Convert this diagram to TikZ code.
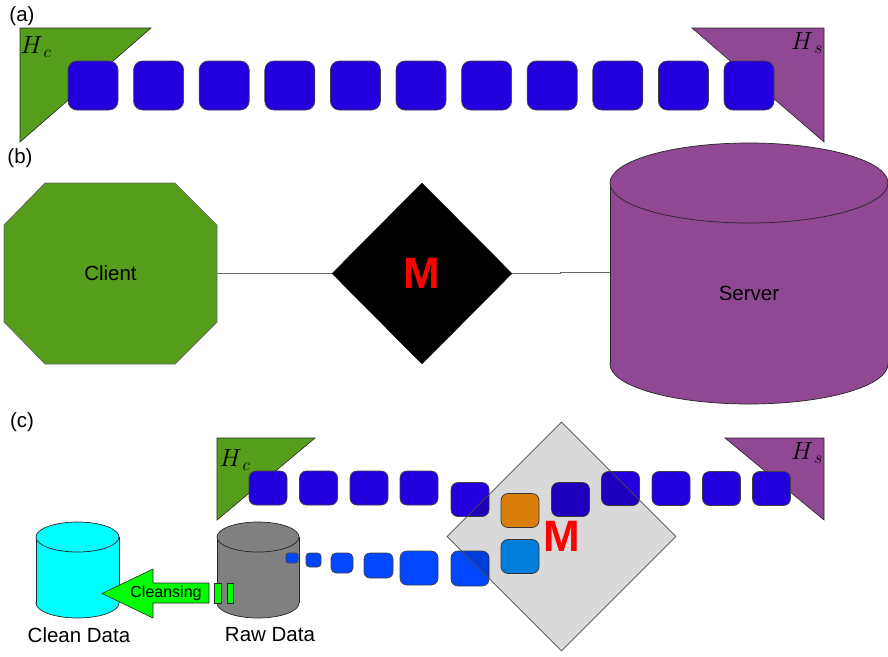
\documentclass[tikz,border=0pt]{standalone}
\usepackage{fontspec}
\setsansfont{Liberation Sans}
\usetikzlibrary{shapes.geometric}
\definecolor{hgreen}{HTML}{579D1C}
\definecolor{hpurple}{HTML}{914892}
\definecolor{sqblue}{HTML}{2200DD}
\definecolor{ltblue}{HTML}{0047FF}
\definecolor{sqorange}{HTML}{FF950E}
\definecolor{skyblue}{HTML}{0095FF}
\definecolor{cyanfill}{HTML}{00FFFF}
\definecolor{rawgray}{HTML}{808080}
\definecolor{arrgreen}{HTML}{00FF00}
\begin{document}
\begin{tikzpicture}[x=1pt,y=-1pt,
  font=\sffamily\fontsize{20.5}{24}\selectfont,
  tri/.style={draw=black!85, line width=0.6pt},
  blk/.style={rectangle, rounded corners=7pt, draw=black!75, line width=0.7pt, inner sep=0pt, fill=sqblue},
  hlabel/.style={font=\fontsize{24}{28}\selectfont, inner sep=0pt},
  conn/.style={draw=black!60, line width=1pt},
  ghost/.style={rectangle, inner sep=0pt},
  cylline/.style={draw=black!85, line width=0.7pt}
]
\useasboundingbox (0,0) rectangle (888,656);

% ---------------- (a)
\node (la) at (22,16) {(a)};
\draw[tri, fill=hgreen] (20,28) -- (151,28) -- (20,142) -- cycle;
\node[hlabel] (hca) at (36,47) {$H_{\,c}$};
\draw[tri, fill=hpurple] (692,28) -- (824,28) -- (824,142) -- cycle;
\node[hlabel] (hsa) at (807,43) {$H_{\,s}$};
\foreach \i in {0,...,10}
  \node[blk, rounded corners=9pt, minimum width=50pt, minimum height=49pt] (a\i) at ({93+65.6*\i},85.5) {};

% ---------------- (b)
\node (lb) at (20,158) {(b)};
\draw[fill=hgreen, draw=black!60, line width=0.7pt]
  (4,225) -- (45,183) -- (175,183) -- (217,225) -- (217,322) -- (175,364) -- (45,364) -- (4,322) -- cycle;
\node[ghost, minimum width=213pt, minimum height=181pt] (cl) at (110.5,273.5) {Client};
\node[diamond, fill=black, draw=black, minimum width=180pt, minimum height=181pt, inner sep=0pt,
      text=red, font=\sffamily\bfseries\fontsize{44}{50}\selectfont] (mb) at (422,273.5) {M};
% server cylinder
\draw[cylline, fill=hpurple] (749,364) ellipse [x radius=139, y radius=40];
\fill[hpurple] (610,183) rectangle (888,364);
\draw[cylline] (610,183) -- (610,364);
\draw[cylline] (888,183) -- (888,364);
\draw[cylline, fill=hpurple] (749,183) ellipse [x radius=139, y radius=40];
\node[ghost, minimum width=278pt, minimum height=181pt] (sv) at (749,273.5) {};
\node (svt) at (749,293) {Server};
\draw[conn] (cl.east) -- (mb.west);
\draw[conn] (mb.east) -- ++(48,0) -- ++(0,-1.5) -- ([yshift=1.5pt]sv.west);

% ---------------- (c)
\node (lc) at (22,422) {(c)};
\draw[tri, fill=hgreen] (217,438) -- (315,438) -- (217,520) -- cycle;
\node[hlabel] (hcc) at (235,460) {$H_{\,c}$};
\draw[tri, fill=hpurple] (725,438) -- (824,438) -- (824,520) -- cycle;
\node[hlabel] (hsc) at (807,453) {$H_{\,s}$};

% clean data cylinder
\draw[cylline, fill=cyanfill] (77.5,603) ellipse [x radius=41.5, y radius=15];
\fill[cyanfill] (36,537) rectangle (119,603);
\draw[cylline] (36,537) -- (36,603);
\draw[cylline] (119,537) -- (119,603);
\draw[cylline, fill=cyanfill] (77.5,537) ellipse [x radius=41.5, y radius=15];
\node[ghost, minimum width=83pt, minimum height=96pt] (clean) at (77.5,570) {};
\node (cleant) at (79,635) {Clean Data};

% raw data cylinder
\draw[cylline, fill=rawgray] (258,603) ellipse [x radius=41, y radius=15];
\fill[rawgray] (217,537) rectangle (299,603);
\draw[cylline] (217,537) -- (217,603);
\draw[cylline] (299,537) -- (299,603);
\draw[cylline, fill=rawgray] (258,537) ellipse [x radius=41, y radius=15];
\node[ghost, minimum width=82pt, minimum height=96pt] (raw) at (258,570) {};
\node (rawt) at (270,635) {Raw Data};

% cleansing arrow
\draw[fill=arrgreen, draw=black!85, line width=0.6pt]
  (209,583) -- (153,583) -- (153,569) -- (102,593.5) -- (153,618) -- (153,603) -- (209,603) -- cycle;
\node[font=\sffamily\fontsize{16}{19}\selectfont, inner sep=0pt] (cls) at (166,593) {Cleansing};
\draw[fill=arrgreen, draw=black!85, line width=0.6pt] (214,583) rectangle (221,603);
\draw[fill=arrgreen, draw=black!85, line width=0.6pt] (227,583) rectangle (233,603);

% top row
\foreach \n/\x/\y in {t1/268/488, t2/318.5/488, t3/369/488, t4/419/488, t5/470/499.5,
                      t7/570.5/499.5, t8/620.5/488.5, t9/671/488.5, t10/721.5/488.5, t11/771.5/488.5}
  \node[blk, minimum width=38pt, minimum height=34pt] (\n) at (\x,\y) {};
\node[blk, fill=sqorange, minimum width=38pt, minimum height=34pt] (or) at (520,510.5) {};
\node[blk, fill=skyblue, minimum width=38pt, minimum height=34pt] (lb2) at (520,556.5) {};

% bottom row
\node[blk, fill=ltblue, rounded corners=2.5pt, minimum width=12pt, minimum height=10pt] (b1) at (292,558) {};
\node[blk, fill=ltblue, rounded corners=3.5pt, minimum width=15pt, minimum height=14pt] (b2) at (313.5,560) {};
\node[blk, fill=ltblue, rounded corners=5pt, minimum width=22pt, minimum height=20pt] (b3) at (342,563) {};
\node[blk, fill=ltblue, rounded corners=6pt, minimum width=29pt, minimum height=25pt] (b4) at (378.5,565.5) {};
\node[blk, fill=ltblue, minimum width=38pt, minimum height=34pt] (b5) at (419,568) {};
\node[blk, fill=ltblue, minimum width=38pt, minimum height=35pt] (b6) at (470,568.5) {};

% translucent diamond
\node[diamond, fill=black, fill opacity=0.15, text opacity=1, draw=black!70, line width=0.8pt,
      minimum width=229pt, minimum height=229pt, inner sep=0pt,
      text=red, font=\sffamily\bfseries\fontsize{44}{50}\selectfont] (mc) at (561.5,536.5) {M};
\end{tikzpicture}
\end{document}
